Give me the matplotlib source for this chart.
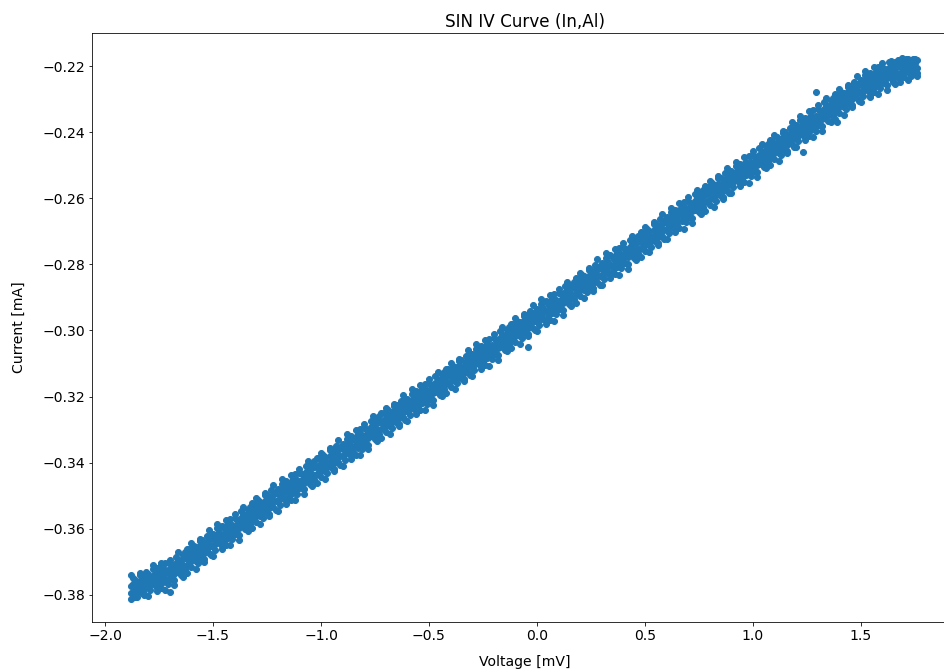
import numpy as np
import matplotlib
matplotlib.use('Agg')
import matplotlib.pyplot as plt

# voltaje medido [mV]
voltage = [
    -1.88, -1.87, -1.86, -1.85, -1.84, -1.83, -1.82, -1.81,
    -1.80, -1.79, -1.78, -1.77, -1.76, -1.75, -1.74, -1.73, -1.72, -1.71,
    -1.70, -1.69, -1.68, -1.67, -1.66, -1.65, -1.64, -1.63, -1.62, -1.61,
    -1.60, -1.59, -1.58, -1.57, -1.56, -1.55, -1.54, -1.53, -1.52, -1.51,
    -1.50, -1.49, -1.48, -1.47, -1.46, -1.45, -1.44, -1.43, -1.42, -1.41,
    -1.40, -1.39, -1.38, -1.37, -1.36, -1.35, -1.34, -1.33, -1.32, -1.31,
    -1.30, -1.29, -1.28, -1.27, -1.26, -1.25, -1.24, -1.23, -1.22, -1.21,
    -1.20, -1.19, -1.18, -1.17, -1.16, -1.15, -1.14, -1.13, -1.12, -1.11,
    -1.10, -1.09, -1.08, -1.07, -1.06, -1.05, -1.04, -1.03, -1.02, -1.01,
    -1.00, -0.99, -0.98, -0.97, -0.96, -0.95, -0.94, -0.93, -0.92, -0.91,
    -0.90, -0.89, -0.88, -0.87, -0.86, -0.85, -0.84, -0.83, -0.82, -0.81,
    -0.80, -0.79, -0.78, -0.77, -0.76, -0.75, -0.74, -0.73, -0.72, -0.71,
    -0.70, -0.69, -0.68, -0.67, -0.66, -0.65, -0.64, -0.63, -0.62, -0.61,
    -0.60, -0.59, -0.58, -0.57, -0.56, -0.55, -0.54, -0.53, -0.52, -0.51,
    -0.50, -0.49, -0.48, -0.47, -0.46, -0.45, -0.44, -0.43, -0.42, -0.41,
    -0.40, -0.39, -0.38, -0.37, -0.36, -0.35, -0.34, -0.33, -0.32, -0.31,
    -0.30, -0.29, -0.28, -0.27, -0.26, -0.25, -0.24, -0.23, -0.22, -0.21,
    -0.20, -0.19, -0.18, -0.17, -0.16, -0.15, -0.14, -0.13, -0.12, -0.11,
    -0.10, -0.09, -0.08, -0.07, -0.06, -0.05, -0.04, -0.03, -0.02, -0.01,
    0.00, 0.01, 0.02, 0.03, 0.04, 0.05, 0.06, 0.07, 0.08, 0.09,
    0.10, 0.11, 0.12, 0.13, 0.14, 0.15, 0.16, 0.17, 0.18, 0.19,
    0.20, 0.21, 0.22, 0.23, 0.24, 0.25, 0.26, 0.27, 0.28, 0.29,
    0.30, 0.31, 0.32, 0.33, 0.34, 0.35, 0.36, 0.37, 0.38, 0.39,
    0.40, 0.41, 0.42, 0.43, 0.44, 0.45, 0.46, 0.47, 0.48, 0.49,
    0.50, 0.51, 0.52, 0.53, 0.54, 0.55, 0.56, 0.57, 0.58, 0.59,
    0.60, 0.61, 0.62, 0.63, 0.64, 0.65, 0.66, 0.67, 0.68, 0.69,
    0.70, 0.71, 0.72, 0.73, 0.74, 0.75, 0.76, 0.77, 0.78, 0.79,
    0.80, 0.81, 0.82, 0.83, 0.84, 0.85, 0.86, 0.87, 0.88, 0.89,
    0.90, 0.91, 0.92, 0.93, 0.94, 0.95, 0.96, 0.97, 0.98, 0.99,
    1.00, 1.01, 1.02, 1.03, 1.04, 1.05, 1.06, 1.07, 1.08, 1.09,
    1.10, 1.11, 1.12, 1.13, 1.14, 1.15, 1.16, 1.17, 1.18, 1.19,
    1.20, 1.21, 1.22, 1.23, 1.24, 1.25, 1.26, 1.27, 1.28, 1.29,
    1.30, 1.31, 1.32, 1.33, 1.34, 1.35, 1.36, 1.37, 1.38, 1.39,
    1.40, 1.41, 1.42, 1.43, 1.44, 1.45, 1.46, 1.47, 1.48, 1.49,
    1.50, 1.51, 1.52, 1.53, 1.54, 1.55, 1.56, 1.57, 1.58, 1.59,
    1.60, 1.61, 1.62, 1.63, 1.64, 1.65, 1.66, 1.67, 1.68, 1.69,
    1.70, 1.71, 1.72, 1.73, 1.74, 1.75, 1.76,
]

# corriente, barrido de subida [mA]
current_up = [
    -0.3813, -0.3790, -0.3797, -0.3773, -0.3757, -0.3794, -0.3758, -0.3730,
    -0.3736, -0.3786, -0.3743, -0.3771, -0.3720, -0.3755, -0.3779, -0.3719, -0.3734, -0.3751,
    -0.3738, -0.3710, -0.3756, -0.3684, -0.3730, -0.3707, -0.3680, -0.3723, -0.3687, -0.3704,
    -0.3716, -0.3691, -0.3697, -0.3670, -0.3653, -0.3688, -0.3651, -0.3621, -0.3653, -0.3625,
    -0.3615, -0.3663, -0.3619, -0.3644, -0.3592, -0.3625, -0.3648, -0.3586, -0.3599, -0.3614,
    -0.3600, -0.3572, -0.3618, -0.3546, -0.3592, -0.3569, -0.3542, -0.3585, -0.3549, -0.3566,
    -0.3579, -0.3554, -0.3560, -0.3533, -0.3516, -0.3551, -0.3514, -0.3484, -0.3516, -0.3488,
    -0.3479, -0.3527, -0.3483, -0.3508, -0.3456, -0.3489, -0.3512, -0.3450, -0.3463, -0.3478,
    -0.3463, -0.3435, -0.3481, -0.3409, -0.3455, -0.3432, -0.3405, -0.3448, -0.3412, -0.3429,
    -0.3443, -0.3418, -0.3424, -0.3397, -0.3380, -0.3415, -0.3378, -0.3348, -0.3380, -0.3352,
    -0.3343, -0.3391, -0.3347, -0.3372, -0.3320, -0.3353, -0.3376, -0.3314, -0.3327, -0.3342,
    -0.3327, -0.3299, -0.3345, -0.3273, -0.3319, -0.3296, -0.3269, -0.3312, -0.3276, -0.3293,
    -0.3307, -0.3282, -0.3288, -0.3261, -0.3244, -0.3279, -0.3242, -0.3212, -0.3244, -0.3216,
    -0.3207, -0.3255, -0.3211, -0.3236, -0.3184, -0.3217, -0.3240, -0.3178, -0.3191, -0.3206,
    -0.3192, -0.3164, -0.3210, -0.3138, -0.3184, -0.3161, -0.3134, -0.3177, -0.3141, -0.3158,
    -0.3171, -0.3146, -0.3152, -0.3125, -0.3108, -0.3143, -0.3106, -0.3076, -0.3108, -0.3080,
    -0.3071, -0.3119, -0.3075, -0.3100, -0.3048, -0.3081, -0.3104, -0.3042, -0.3055, -0.3070,
    -0.3056, -0.3028, -0.3074, -0.3002, -0.3048, -0.3025, -0.2998, -0.3041, -0.3005, -0.3022,
    -0.3035, -0.3010, -0.3016, -0.2989, -0.2972, -0.3007, -0.2970, -0.2940, -0.2972, -0.2944,
    -0.2935, -0.2983, -0.2939, -0.2964, -0.2912, -0.2945, -0.2968, -0.2906, -0.2919, -0.2934,
    -0.2919, -0.2891, -0.2937, -0.2865, -0.2911, -0.2888, -0.2861, -0.2904, -0.2868, -0.2885,
    -0.2897, -0.2872, -0.2878, -0.2851, -0.2834, -0.2869, -0.2832, -0.2802, -0.2834, -0.2806,
    -0.2796, -0.2844, -0.2800, -0.2825, -0.2773, -0.2806, -0.2829, -0.2767, -0.2780, -0.2795,
    -0.2780, -0.2752, -0.2798, -0.2726, -0.2772, -0.2749, -0.2722, -0.2765, -0.2729, -0.2746,
    -0.2759, -0.2734, -0.2740, -0.2713, -0.2696, -0.2731, -0.2694, -0.2664, -0.2696, -0.2668,
    -0.2657, -0.2705, -0.2661, -0.2686, -0.2634, -0.2667, -0.2690, -0.2628, -0.2641, -0.2656,
    -0.2641, -0.2613, -0.2659, -0.2587, -0.2633, -0.2610, -0.2583, -0.2626, -0.2590, -0.2607,
    -0.2620, -0.2595, -0.2601, -0.2574, -0.2557, -0.2592, -0.2555, -0.2525, -0.2557, -0.2529,
    -0.2518, -0.2566, -0.2522, -0.2547, -0.2495, -0.2528, -0.2551, -0.2489, -0.2502, -0.2517,
    -0.2502, -0.2474, -0.2520, -0.2448, -0.2494, -0.2471, -0.2444, -0.2487, -0.2451, -0.2468,
    -0.2481, -0.2456, -0.2462, -0.2435, -0.2418, -0.2453, -0.2416, -0.2386, -0.2418, -0.2390,
    -0.2379, -0.2427, -0.2383, -0.2408, -0.2356, -0.2389, -0.2412, -0.2350, -0.2363, -0.2378,
    -0.2363, -0.2335, -0.2381, -0.2309, -0.2355, -0.2332, -0.2305, -0.2348, -0.2312, -0.2329,
    -0.2342, -0.2317, -0.2323, -0.2296, -0.2279, -0.2314, -0.2277, -0.2247, -0.2279, -0.2251,
    -0.2241, -0.2290, -0.2247, -0.2273, -0.2222, -0.2256, -0.2279, -0.2219, -0.2232, -0.2249,
    -0.2235, -0.2209, -0.2257, -0.2187, -0.2235, -0.2214, -0.2188, -0.2234, -0.2199, -0.2219,
    -0.2234, -0.2212, -0.2219, -0.2195, -0.2180, -0.2217, -0.2182,
]

# corriente, lectura intermedia [mA]
current_mid = [
    -0.3795, -0.3768, -0.3777, -0.3790, -0.3740, -0.3769, -0.3798, -0.3749,
    -0.3753, -0.3770, -0.3763, -0.3738, -0.3748, -0.3769, -0.3724, -0.3741, -0.3754, -0.3768,
    -0.3753, -0.3726, -0.3736, -0.3704, -0.3715, -0.3695, -0.3724, -0.3671, -0.3709, -0.3682,
    -0.3698, -0.3669, -0.3677, -0.3687, -0.3636, -0.3663, -0.3691, -0.3640, -0.3635, -0.3653,
    -0.3632, -0.3647, -0.3639, -0.3611, -0.3620, -0.3639, -0.3593, -0.3608, -0.3619, -0.3631,
    -0.3615, -0.3588, -0.3598, -0.3566, -0.3577, -0.3557, -0.3586, -0.3533, -0.3571, -0.3544,
    -0.3561, -0.3532, -0.3540, -0.3550, -0.3499, -0.3526, -0.3554, -0.3503, -0.3498, -0.3516,
    -0.3496, -0.3511, -0.3503, -0.3475, -0.3484, -0.3503, -0.3457, -0.3472, -0.3483, -0.3495,
    -0.3478, -0.3451, -0.3461, -0.3429, -0.3440, -0.3420, -0.3449, -0.3396, -0.3434, -0.3407,
    -0.3425, -0.3396, -0.3404, -0.3414, -0.3363, -0.3390, -0.3418, -0.3367, -0.3362, -0.3380,
    -0.3360, -0.3375, -0.3367, -0.3339, -0.3348, -0.3367, -0.3321, -0.3336, -0.3347, -0.3359,
    -0.3342, -0.3315, -0.3325, -0.3293, -0.3304, -0.3284, -0.3313, -0.3260, -0.3298, -0.3271,
    -0.3289, -0.3260, -0.3268, -0.3278, -0.3227, -0.3254, -0.3282, -0.3231, -0.3226, -0.3244,
    -0.3224, -0.3239, -0.3231, -0.3203, -0.3212, -0.3231, -0.3185, -0.3200, -0.3211, -0.3223,
    -0.3207, -0.3180, -0.3190, -0.3158, -0.3169, -0.3149, -0.3178, -0.3125, -0.3163, -0.3136,
    -0.3153, -0.3124, -0.3132, -0.3142, -0.3091, -0.3118, -0.3146, -0.3095, -0.3090, -0.3108,
    -0.3088, -0.3103, -0.3095, -0.3067, -0.3076, -0.3095, -0.3049, -0.3064, -0.3075, -0.3087,
    -0.3071, -0.3044, -0.3054, -0.3022, -0.3033, -0.3013, -0.3042, -0.2989, -0.3027, -0.3000,
    -0.3017, -0.2988, -0.2996, -0.3006, -0.2955, -0.2982, -0.3010, -0.2959, -0.2954, -0.2972,
    -0.2952, -0.2967, -0.2959, -0.2931, -0.2940, -0.2959, -0.2913, -0.2928, -0.2939, -0.2951,
    -0.2934, -0.2907, -0.2917, -0.2885, -0.2896, -0.2876, -0.2905, -0.2852, -0.2890, -0.2863,
    -0.2879, -0.2850, -0.2858, -0.2868, -0.2817, -0.2844, -0.2872, -0.2821, -0.2816, -0.2834,
    -0.2813, -0.2828, -0.2820, -0.2792, -0.2801, -0.2820, -0.2774, -0.2789, -0.2800, -0.2812,
    -0.2795, -0.2768, -0.2778, -0.2746, -0.2757, -0.2737, -0.2766, -0.2713, -0.2751, -0.2724,
    -0.2741, -0.2712, -0.2720, -0.2730, -0.2679, -0.2706, -0.2734, -0.2683, -0.2678, -0.2696,
    -0.2674, -0.2689, -0.2681, -0.2653, -0.2662, -0.2681, -0.2635, -0.2650, -0.2661, -0.2673,
    -0.2656, -0.2629, -0.2639, -0.2607, -0.2618, -0.2598, -0.2627, -0.2574, -0.2612, -0.2585,
    -0.2602, -0.2573, -0.2581, -0.2591, -0.2540, -0.2567, -0.2595, -0.2544, -0.2539, -0.2557,
    -0.2535, -0.2550, -0.2542, -0.2514, -0.2523, -0.2542, -0.2496, -0.2511, -0.2522, -0.2534,
    -0.2517, -0.2490, -0.2500, -0.2468, -0.2479, -0.2459, -0.2488, -0.2435, -0.2473, -0.2446,
    -0.2463, -0.2434, -0.2442, -0.2452, -0.2401, -0.2428, -0.2456, -0.2405, -0.2400, -0.2418,
    -0.2396, -0.2411, -0.2403, -0.2375, -0.2384, -0.2403, -0.2357, -0.2372, -0.2383, -0.2395,
    -0.2378, -0.2351, -0.2361, -0.2329, -0.2340, -0.2320, -0.2349, -0.2296, -0.2334, -0.2307,
    -0.2324, -0.2295, -0.2303, -0.2313, -0.2262, -0.2289, -0.2317, -0.2266, -0.2261, -0.2279,
    -0.2258, -0.2274, -0.2267, -0.2240, -0.2250, -0.2270, -0.2224, -0.2241, -0.2252, -0.2266,
    -0.2250, -0.2225, -0.2237, -0.2207, -0.2220, -0.2202, -0.2232, -0.2182, -0.2221, -0.2197,
    -0.2216, -0.2190, -0.2199, -0.2212, -0.2185, -0.2192, -0.2222,
]

# corriente, barrido de bajada [mA]
current_down = [
    -0.3773, -0.3750, -0.3755, -0.3807, -0.3777, -0.3741, -0.3781, -0.3771,
    -0.3773, -0.3753, -0.3723, -0.3755, -0.3780, -0.3729, -0.3741, -0.3761, -0.3704, -0.3724,
    -0.3705, -0.3753, -0.3716, -0.3731, -0.3695, -0.3740, -0.3708, -0.3689, -0.3735, -0.3662,
    -0.3676, -0.3651, -0.3655, -0.3704, -0.3673, -0.3635, -0.3674, -0.3662, -0.3672, -0.3680,
    -0.3652, -0.3630, -0.3599, -0.3628, -0.3652, -0.3599, -0.3610, -0.3628, -0.3569, -0.3587,
    -0.3567, -0.3615, -0.3578, -0.3593, -0.3557, -0.3602, -0.3570, -0.3551, -0.3597, -0.3524,
    -0.3539, -0.3514, -0.3518, -0.3567, -0.3536, -0.3498, -0.3537, -0.3525, -0.3535, -0.3543,
    -0.3516, -0.3494, -0.3463, -0.3492, -0.3516, -0.3463, -0.3474, -0.3492, -0.3433, -0.3451,
    -0.3430, -0.3478, -0.3441, -0.3456, -0.3420, -0.3465, -0.3433, -0.3414, -0.3460, -0.3387,
    -0.3403, -0.3378, -0.3382, -0.3431, -0.3400, -0.3362, -0.3401, -0.3389, -0.3399, -0.3407,
    -0.3380, -0.3358, -0.3327, -0.3356, -0.3380, -0.3327, -0.3338, -0.3356, -0.3297, -0.3315,
    -0.3294, -0.3342, -0.3305, -0.3320, -0.3284, -0.3329, -0.3297, -0.3278, -0.3324, -0.3251,
    -0.3267, -0.3242, -0.3246, -0.3295, -0.3264, -0.3226, -0.3265, -0.3253, -0.3263, -0.3271,
    -0.3244, -0.3222, -0.3191, -0.3220, -0.3244, -0.3191, -0.3202, -0.3220, -0.3161, -0.3179,
    -0.3159, -0.3207, -0.3170, -0.3185, -0.3149, -0.3194, -0.3162, -0.3143, -0.3189, -0.3116,
    -0.3131, -0.3106, -0.3110, -0.3159, -0.3128, -0.3090, -0.3129, -0.3117, -0.3127, -0.3135,
    -0.3108, -0.3086, -0.3055, -0.3084, -0.3108, -0.3055, -0.3066, -0.3084, -0.3025, -0.3043,
    -0.3023, -0.3071, -0.3034, -0.3049, -0.3013, -0.3058, -0.3026, -0.3007, -0.3053, -0.2980,
    -0.2995, -0.2970, -0.2974, -0.3023, -0.2992, -0.2954, -0.2993, -0.2981, -0.2991, -0.2999,
    -0.2972, -0.2950, -0.2919, -0.2948, -0.2972, -0.2919, -0.2930, -0.2948, -0.2889, -0.2907,
    -0.2886, -0.2934, -0.2897, -0.2912, -0.2876, -0.2921, -0.2889, -0.2870, -0.2916, -0.2843,
    -0.2857, -0.2832, -0.2836, -0.2885, -0.2854, -0.2816, -0.2855, -0.2843, -0.2853, -0.2861,
    -0.2833, -0.2811, -0.2780, -0.2809, -0.2833, -0.2780, -0.2791, -0.2809, -0.2750, -0.2768,
    -0.2747, -0.2795, -0.2758, -0.2773, -0.2737, -0.2782, -0.2750, -0.2731, -0.2777, -0.2704,
    -0.2719, -0.2694, -0.2698, -0.2747, -0.2716, -0.2678, -0.2717, -0.2705, -0.2715, -0.2723,
    -0.2694, -0.2672, -0.2641, -0.2670, -0.2694, -0.2641, -0.2652, -0.2670, -0.2611, -0.2629,
    -0.2608, -0.2656, -0.2619, -0.2634, -0.2598, -0.2643, -0.2611, -0.2592, -0.2638, -0.2565,
    -0.2580, -0.2555, -0.2559, -0.2608, -0.2577, -0.2539, -0.2578, -0.2566, -0.2576, -0.2584,
    -0.2555, -0.2533, -0.2502, -0.2531, -0.2555, -0.2502, -0.2513, -0.2531, -0.2472, -0.2490,
    -0.2469, -0.2517, -0.2480, -0.2495, -0.2459, -0.2504, -0.2472, -0.2453, -0.2499, -0.2426,
    -0.2441, -0.2416, -0.2420, -0.2469, -0.2438, -0.2400, -0.2439, -0.2427, -0.2437, -0.2445,
    -0.2416, -0.2394, -0.2363, -0.2392, -0.2416, -0.2363, -0.2374, -0.2392, -0.2333, -0.2351,
    -0.2330, -0.2378, -0.2341, -0.2356, -0.2320, -0.2365, -0.2333, -0.2314, -0.2360, -0.2287,
    -0.2302, -0.2277, -0.2281, -0.2330, -0.2299, -0.2261, -0.2300, -0.2288, -0.2298, -0.2306,
    -0.2278, -0.2257, -0.2227, -0.2257, -0.2282, -0.2230, -0.2241, -0.2261, -0.2202, -0.2222,
    -0.2202, -0.2252, -0.2217, -0.2234, -0.2200, -0.2247, -0.2216, -0.2200, -0.2247, -0.2177,
    -0.2194, -0.2180, -0.2178, -0.2229, -0.2200, -0.2178, -0.2205,
]

# lecturas en el borde de la banda (cada 0.02 mV)
voltage_edge = [
    -1.88, -1.86, -1.84, -1.82,
    -1.80, -1.78, -1.76, -1.74, -1.72, -1.70, -1.68, -1.66, -1.64, -1.62,
    -1.60, -1.58, -1.56, -1.54, -1.52, -1.50, -1.48, -1.46, -1.44, -1.42,
    -1.40, -1.38, -1.36, -1.34, -1.32, -1.30, -1.28, -1.26, -1.24, -1.22,
    -1.20, -1.18, -1.16, -1.14, -1.12, -1.10, -1.08, -1.06, -1.04, -1.02,
    -1.00, -0.98, -0.96, -0.94, -0.92, -0.90, -0.88, -0.86, -0.84, -0.82,
    -0.80, -0.78, -0.76, -0.74, -0.72, -0.70, -0.68, -0.66, -0.64, -0.62,
    -0.60, -0.58, -0.56, -0.54, -0.52, -0.50, -0.48, -0.46, -0.44, -0.42,
    -0.40, -0.38, -0.36, -0.34, -0.32, -0.30, -0.28, -0.26, -0.24, -0.22,
    -0.20, -0.18, -0.16, -0.14, -0.12, -0.10, -0.08, -0.06, -0.04, -0.02,
    0.00, 0.02, 0.04, 0.06, 0.08, 0.10, 0.12, 0.14, 0.16, 0.18,
    0.20, 0.22, 0.24, 0.26, 0.28, 0.30, 0.32, 0.34, 0.36, 0.38,
    0.40, 0.42, 0.44, 0.46, 0.48, 0.50, 0.52, 0.54, 0.56, 0.58,
    0.60, 0.62, 0.64, 0.66, 0.68, 0.70, 0.72, 0.74, 0.76, 0.78,
    0.80, 0.82, 0.84, 0.86, 0.88, 0.90, 0.92, 0.94, 0.96, 0.98,
    1.00, 1.02, 1.04, 1.06, 1.08, 1.10, 1.12, 1.14, 1.16, 1.18,
    1.20, 1.22, 1.24, 1.26, 1.28, 1.30, 1.32, 1.34, 1.36, 1.38,
    1.40, 1.42, 1.44, 1.46, 1.48, 1.50, 1.52, 1.54, 1.56, 1.58,
    1.60, 1.62, 1.64, 1.66, 1.68, 1.70, 1.72, 1.74, 1.76,
]

current_edge = [
    -0.3741, -0.3805, -0.3734, -0.3800,
    -0.3803, -0.3710, -0.3788, -0.3704, -0.3785, -0.3693, -0.3771, -0.3671, -0.3745, -0.3661,
    -0.3644, -0.3721, -0.3630, -0.3699, -0.3604, -0.3682, -0.3586, -0.3660, -0.3573, -0.3650,
    -0.3555, -0.3633, -0.3533, -0.3607, -0.3523, -0.3507, -0.3584, -0.3493, -0.3562, -0.3467,
    -0.3546, -0.3450, -0.3524, -0.3437, -0.3514, -0.3418, -0.3496, -0.3396, -0.3470, -0.3386,
    -0.3371, -0.3448, -0.3357, -0.3426, -0.3331, -0.3410, -0.3314, -0.3388, -0.3301, -0.3378,
    -0.3282, -0.3360, -0.3260, -0.3334, -0.3250, -0.3235, -0.3312, -0.3221, -0.3290, -0.3195,
    -0.3274, -0.3178, -0.3252, -0.3165, -0.3242, -0.3147, -0.3225, -0.3125, -0.3199, -0.3115,
    -0.3099, -0.3176, -0.3085, -0.3154, -0.3059, -0.3138, -0.3042, -0.3116, -0.3029, -0.3106,
    -0.3011, -0.3089, -0.2989, -0.3063, -0.2979, -0.2963, -0.3040, -0.2949, -0.3018, -0.2923,
    -0.3002, -0.2906, -0.2980, -0.2893, -0.2970, -0.2874, -0.2952, -0.2852, -0.2926, -0.2842,
    -0.2825, -0.2902, -0.2811, -0.2880, -0.2785, -0.2863, -0.2767, -0.2841, -0.2754, -0.2831,
    -0.2735, -0.2813, -0.2713, -0.2787, -0.2703, -0.2687, -0.2764, -0.2673, -0.2742, -0.2647,
    -0.2724, -0.2628, -0.2702, -0.2615, -0.2692, -0.2596, -0.2674, -0.2574, -0.2648, -0.2564,
    -0.2548, -0.2625, -0.2534, -0.2603, -0.2508, -0.2585, -0.2489, -0.2563, -0.2476, -0.2553,
    -0.2457, -0.2535, -0.2435, -0.2509, -0.2425, -0.2409, -0.2486, -0.2395, -0.2464, -0.2369,
    -0.2446, -0.2350, -0.2424, -0.2337, -0.2414, -0.2318, -0.2396, -0.2296, -0.2370, -0.2286,
    -0.2270, -0.2347, -0.2256, -0.2325, -0.2230, -0.2308, -0.2214, -0.2290, -0.2204, -0.2283,
    -0.2190, -0.2272, -0.2186, -0.2253, -0.2184, -0.2183, -0.2243, -0.2182, -0.2230,
]

# puntos sueltos fuera de la banda
outlier_v = [1.29, 1.54, 1.39, 1.23, -0.04, -1.70, -1.74, 1.68]
outlier_i = [-0.2279, -0.2294, -0.2369, -0.2460, -0.3050, -0.3791, -0.3706, -0.2236]

x = np.concatenate([voltage, voltage, voltage, voltage_edge, outlier_v])
y = np.concatenate([current_up, current_mid, current_down, current_edge, outlier_i])

plt.rcParams['font.size'] = 14

fig = plt.figure(figsize=(944 / 72, 671 / 72), dpi=72)
ax = fig.add_axes([0.0975, 0.073, 0.9174, 0.8778])
ax.scatter(x, y)
ax.set_xlim(-2.06, 1.95)
ax.set_ylim(-0.3882, -0.2100)
ax.set_title('SIN IV Curve (In,Al)')
ax.set_xlabel('Voltage [mV]', labelpad=12)
ax.set_ylabel('Current [mA]', labelpad=16)
fig.savefig('out.png', dpi=72)
